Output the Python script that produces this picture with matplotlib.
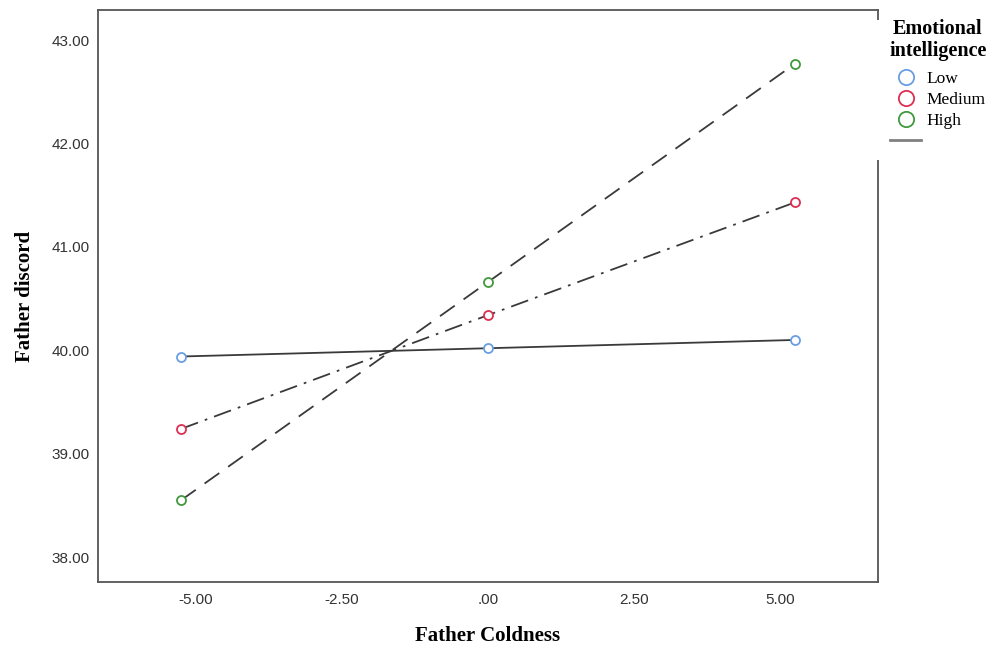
import numpy as np
import matplotlib
matplotlib.use("Agg")
from matplotlib import pyplot as plt
from matplotlib.lines import Line2D
from matplotlib.patches import Rectangle

# father coldness at -1 SD, mean, +1 SD
coldness = [-5.25, 0.0, 5.25]
groups = ["Low", "Medium", "High"]
discord_low = [39.94, 40.02, 40.10]
discord_medium = [39.24, 40.34, 41.43]
discord_high = [38.55, 40.66, 42.77]
xticks = [-5.0, -2.5, 0.0, 2.5, 5.0]
xtick_labels = ["-5.00", "-2.50", ".00", "2.50", "5.00"]
yticks = [38, 39, 40, 41, 42, 43]
ytick_labels = ["38.00", "39.00", "40.00", "41.00", "42.00", "43.00"]

colors = ["#6a9ee2", "#dc2f52", "#41993e"]
styles = ["-", (0, (10, 4, 1.5, 4)), (0, (10, 6))]
series = [discord_low, discord_medium, discord_high]

SERIF = "Liberation Serif"
SANS = "Liberation Sans"

fig = plt.figure(figsize=(9.97, 6.46), dpi=100)
ax = fig.add_axes([0.0983, 0.0991, 0.7823, 0.8854])

for vals, col, ls in zip(series, colors, styles):
    ax.plot(coldness, vals, color="#3a3a3a", lw=1.3, linestyle=ls, zorder=2)
    ax.plot(coldness, vals, linestyle="none", marker="o", ms=6.5,
            mfc="white", mec=col, mew=1.3, zorder=3)

ax.set_xlim(-6.67, 6.67)
ax.set_ylim(37.76, 43.29)
ax.set_xticks(xticks)
ax.set_xticklabels(xtick_labels)
ax.set_yticks(yticks)
ax.set_yticklabels(ytick_labels)
ax.tick_params(length=0, labelsize=11, labelcolor="#333333")
ax.tick_params(axis="y", pad=6)
ax.tick_params(axis="x", pad=8)
for lab in ax.get_xticklabels() + ax.get_yticklabels():
    lab.set_family(SANS)
for sp in ax.spines.values():
    sp.set_color("#555555")
    sp.set_linewidth(1.3)

ax.set_xlabel("Father Coldness", family=SERIF, fontweight="bold",
              fontsize=15, va="center")
ax.xaxis.set_label_coords(0.5, -0.094)
ax.set_ylabel("Father discord", family=SERIF, fontweight="bold",
              fontsize=15, va="center")
ax.yaxis.set_label_coords(-0.093, 0.5)

# the legend panel hides part of the right spine
fig.patches.append(Rectangle((0.872, 1 - 160 / 646), 0.012, 140 / 646,
                             transform=fig.transFigure, facecolor="white",
                             edgecolor="none", zorder=4))

handles = [Line2D([], [], linestyle="none", marker="o", ms=11, mfc="white",
                  mec=c, mew=1.3) for c in colors]
handles.append(Line2D([], [], color="#808080", lw=2))
labels = groups + [""]

leg = fig.legend(handles, labels, loc="upper left",
                 bbox_to_anchor=(0.8867, 0.978), frameon=False,
                 title="Emotional\nintelligence", handlelength=1.8,
                 handletextpad=0.3, labelspacing=0.27, borderpad=0.3,
                 borderaxespad=0, prop={"family": SERIF, "size": 12.5})
leg.get_title().set_fontfamily(SERIF)
leg.get_title().set_fontweight("bold")
leg.get_title().set_fontsize(14.5)
leg.get_title().set_linespacing(1.1)
leg.get_title().set_multialignment("center")
leg._legend_box.sep = 7.5  # extra gap between title and entries

fig.savefig("out.png", dpi=100)
